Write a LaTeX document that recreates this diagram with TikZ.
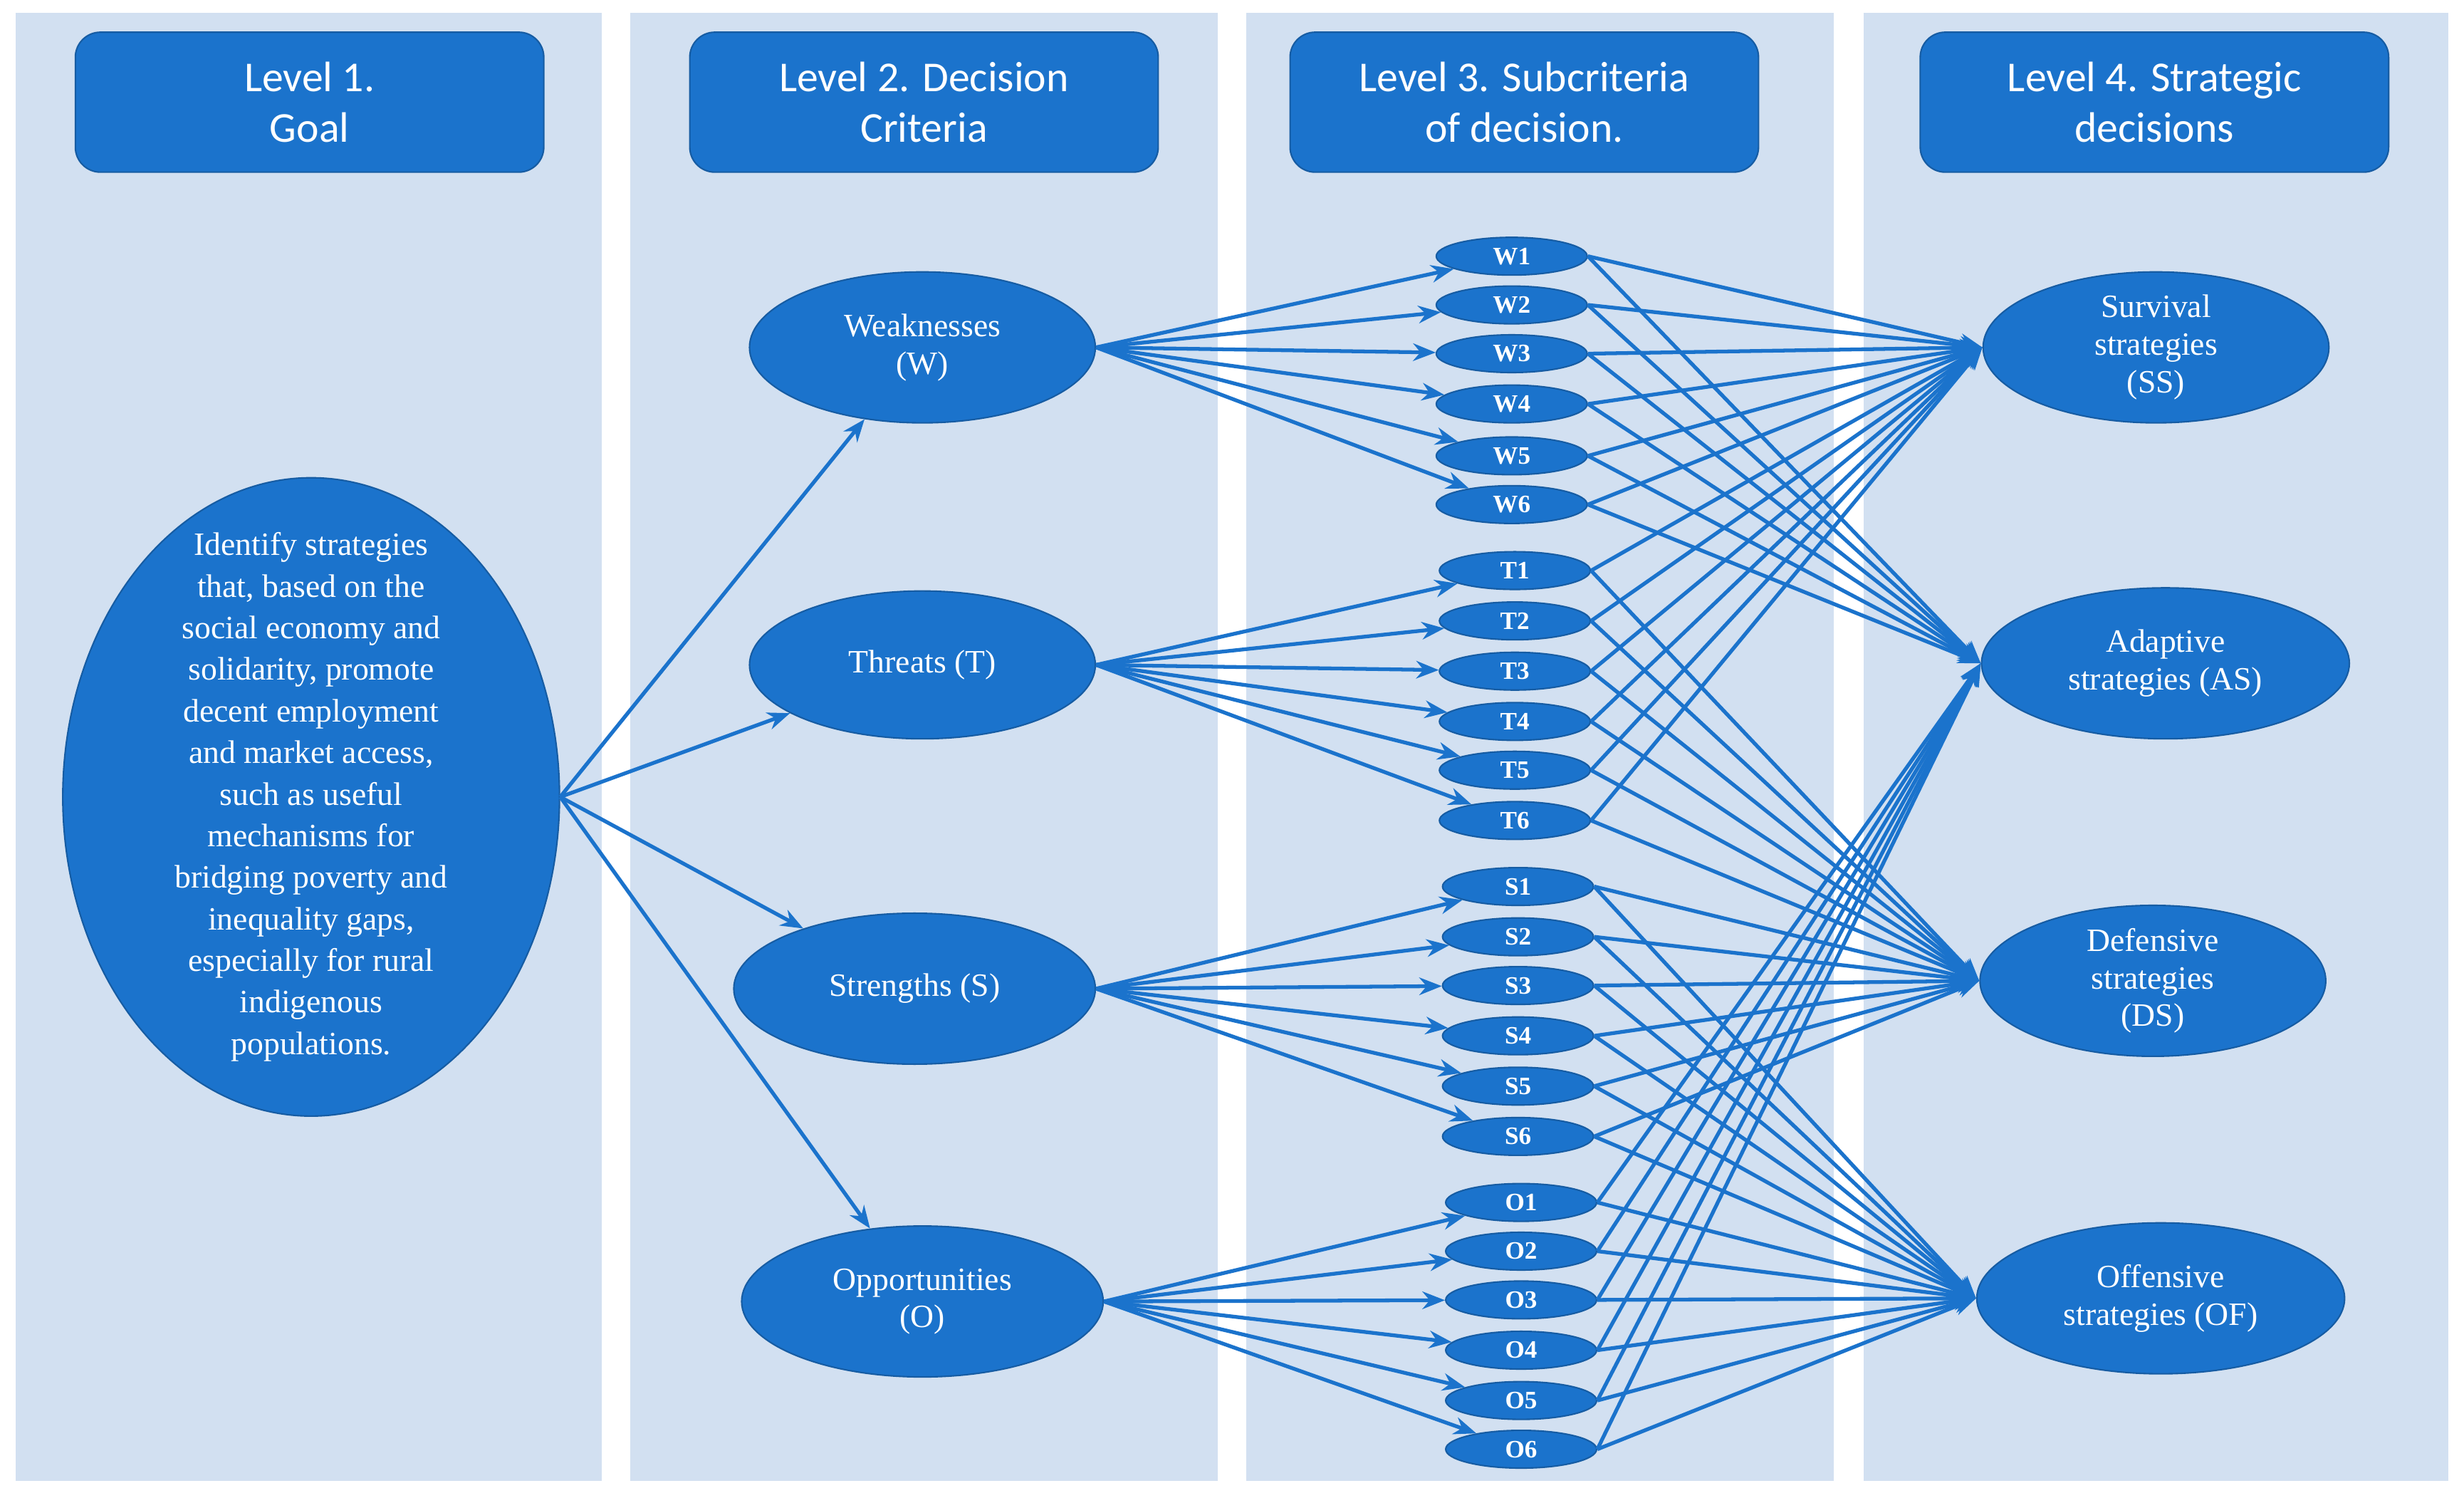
\documentclass[tikz,border=0pt]{standalone}
\usepackage{fontspec}
\setmainfont{Liberation Serif}
\newfontfamily\hdr{Carlito}
\usetikzlibrary{shapes.geometric,arrows.meta}
\definecolor{pane}{HTML}{D2E0F1}
\definecolor{dk}{HTML}{1B73CC}
\begin{document}
\begin{tikzpicture}[x=0.02207cm,y=-0.02207cm,
  panel/.style={fill=pane,draw=none},
  head/.style={fill=dk,draw=dk!80!black,line width=0.6pt,rounded corners=10pt,text=white,font=\hdr\fontsize{17}{20}\selectfont,align=center,minimum width=298*0.2207mm,minimum height=89*0.2207mm,inner sep=0},
  big/.style={ellipse,fill=dk,draw=dk!80!black,line width=0.6pt,text=white,font=\fontsize{13}{15}\selectfont,align=center,inner sep=0},
  sub/.style={ellipse,fill=dk,draw=dk!80!black,line width=0.6pt,text=white,font=\bfseries\fontsize{10}{11}\selectfont,inner sep=0,minimum width=96*0.2207mm,minimum height=24*0.2207mm},
  arr/.style={draw=dk,line width=1.5pt,-{Stealth[length=9pt,width=7pt]}}]
\useasboundingbox (0,0) rectangle (1568,953);
\fill[white] (0,0) rectangle (1568,953);
\fill[panel] (10,8) rectangle (383,942);
\fill[panel] (401,8) rectangle (775,942);
\fill[panel] (793,8) rectangle (1167,942);
\fill[panel] (1186,8) rectangle (1558,942);
\node[head] (h1) at (197,65) {Level 1.\\Goal};
\node[head] (h2) at (588,65) {Level 2. Decision\\Criteria};
\node[head] (h3) at (970,65) {Level 3. Subcriteria\\of decision.};
\node[head] (h4) at (1371,65) {Level 4. Strategic\\decisions};
% goal
\node[big,minimum width=316*0.2207mm,minimum height=406*0.2207mm] (goal) at (198,507) {};
\node[text=white,font=\fontsize{13}{16.6}\selectfont,align=center,inner sep=0] (goalt) at (198,507) {Identify strategies\\that, based on the\\social economy and\\solidarity, promote\\decent employment\\and market access,\\such as useful\\mechanisms for\\bridging poverty and\\inequality gaps,\\especially for rural\\indigenous\\populations.};
% level 2
\node[big,minimum width=220*0.2207mm,minimum height=96*0.2207mm] (W) at (587,221) {Weaknesses\\(W)};
\node[big,minimum width=220*0.2207mm,minimum height=94*0.2207mm] (T) at (587,423) {Threats (T)};
\node[big,minimum width=230*0.2207mm,minimum height=96*0.2207mm] (S) at (582,629) {Strengths (S)};
\node[big,minimum width=230*0.2207mm,minimum height=96*0.2207mm] (O) at (587,828) {Opportunities\\(O)};
% level 4
\node[big,minimum width=220*0.2207mm,minimum height=96*0.2207mm] (SS) at (1372,221) {Survival\\strategies\\(SS)};
\node[big,minimum width=234*0.2207mm,minimum height=96*0.2207mm] (AS) at (1378,422) {Adaptive\\strategies (AS)};
\node[big,minimum width=220*0.2207mm,minimum height=96*0.2207mm] (DS) at (1370,624) {Defensive\\strategies\\(DS)};
\node[big,minimum width=234*0.2207mm,minimum height=96*0.2207mm] (OF) at (1375,826) {Offensive\\strategies (OF)};
% level 3
\foreach \i/\y in {1/163,2/194,3/225,4/257,5/290,6/321}{\node[sub] (W\i) at (962,\y) {W\i};}
\foreach \i/\y in {1/363,2/395,3/427,4/459,5/490,6/522}{\node[sub] (T\i) at (964,\y) {T\i};}
\foreach \i/\y in {1/564,2/596,3/627,4/659,5/691,6/723}{\node[sub] (S\i) at (966,\y) {S\i};}
\foreach \i/\y in {1/765,2/796,3/827,4/859,5/891,6/922}{\node[sub] (O\i) at (968,\y) {O\i};}
% arrows
\foreach \n in {W,T,S,O}{\draw[arr] (goal.east) -- (\n);}
\foreach \n in {W,T,S,O}{\foreach \i in {1,...,6}{\draw[arr] (\n.east) -- (\n\i);}}
\foreach \i in {1,...,6}{
  \draw[arr] (W\i.east) -- (SS.west); \draw[arr] (W\i.east) -- (AS.west);
  \draw[arr] (T\i.east) -- (SS.west); \draw[arr] (T\i.east) -- (DS.west);
  \draw[arr] (S\i.east) -- (DS.west); \draw[arr] (S\i.east) -- (OF.west);
  \draw[arr] (O\i.east) -- (AS.west); \draw[arr] (O\i.east) -- (OF.west);
}
\end{tikzpicture}
\end{document}
